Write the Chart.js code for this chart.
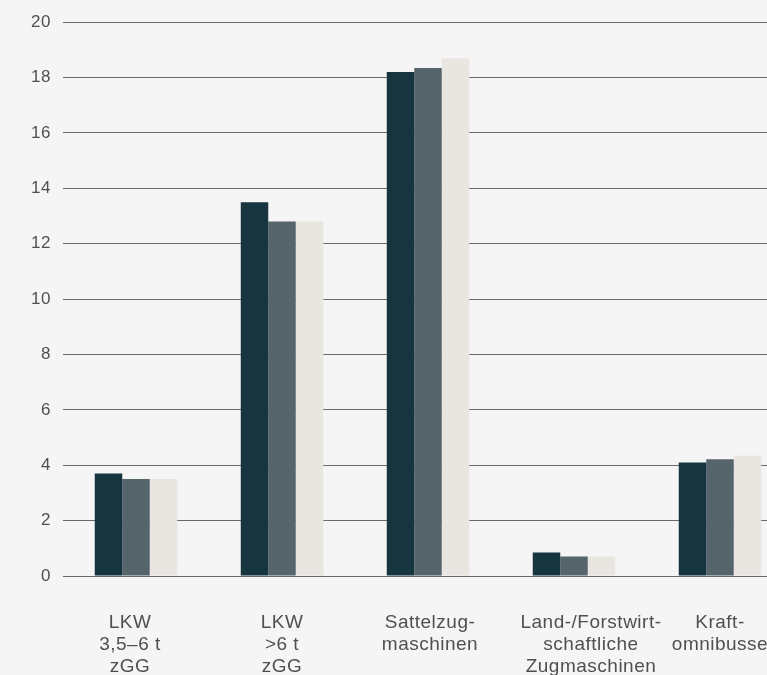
<!DOCTYPE html>
<html>
<head>
<meta charset="utf-8">
<script src="https://cdn.jsdelivr.net/npm/chart.js@4"></script>
<style>
  html, body { margin: 0; padding: 0; background: #f5f5f5; overflow: hidden; }
  #wrap { position: relative; width: 800px; height: 675px; }
</style>
</head>
<body>
<div id="wrap"><canvas id="c"></canvas></div>
<script>
const categories = [
  ["LKW", "3,5–6 t", "zGG"],
  ["LKW", ">6 t", "zGG"],
  ["Sattelzug-", "maschinen"],
  ["Land-/Forstwirt-", "schaftliche", "Zugmaschinen"],
  ["Kraft-", "omnibusse"]
];
const series1 = [3.7, 13.5, 18.2, 0.85, 4.1];
const series2 = [3.5, 12.8, 18.35, 0.7, 4.22];
const series3 = [3.5, 12.8, 18.7, 0.7, 4.34];
const yTicks = [0, 2, 4, 6, 8, 10, 12, 14, 16, 18, 20];

const FONT = "'Liberation Sans', Arial, sans-serif";
const LABEL_NUDGE = [-6, 0, 2, 17, 0];

const spacing = {
  id: 'spacing',
  beforeUpdate(chart) { chart.ctx.letterSpacing = '0.5px'; },
  beforeDraw(chart) { chart.ctx.letterSpacing = '0.5px'; }
};

new Chart(document.getElementById('c'), {
  type: 'bar',
  plugins: [spacing],
  data: {
    labels: categories,
    datasets: [
      { data: series1, backgroundColor: '#17353f' },
      { data: series2, backgroundColor: '#56656c' },
      { data: series3, backgroundColor: '#e9e5e0' }
    ]
  },
  options: {
    responsive: true,
    maintainAspectRatio: false,
    animation: false,
    layout: { padding: { top: 12, right: 7, left: 0, bottom: 0 } },
    datasets: { bar: { categoryPercentage: 0.565, barPercentage: 1.0 } },
    plugins: { legend: { display: false }, tooltip: { enabled: false } },
    scales: {
      x: {
        grid: { display: false, drawTicks: false },
        border: { display: false },
        ticks: {
          color: '#505050',
          font: { family: FONT, size: 19, lineHeight: 1.16 },
          padding: 36,
          maxRotation: 0,
          autoSkip: false
        },
        afterFit: (s) => {
          s.height = 99;
          s.paddingLeft = 0;
          s.paddingRight = 0;
          if (!s._nudged && typeof s._computeLabelItems === 'function') {
            const orig = s._computeLabelItems.bind(s);
            s._computeLabelItems = (ca) => {
              const items = orig(ca);
              items.forEach((it, i) => {
                if (it.options && it.options.translation && LABEL_NUDGE[i]) {
                  it.options.translation[0] += LABEL_NUDGE[i];
                }
              });
              return items;
            };
            s._nudged = true;
          }
        }
      },
      y: {
        min: 0, max: 20,
        afterBuildTicks: (s) => { s.ticks = yTicks.map(v => ({ value: v })); },
        grid: { color: '#6a6a6a', lineWidth: 1, drawTicks: false },
        border: { display: false },
        ticks: {
          color: '#505050',
          font: { family: FONT, size: 17 },
          padding: 12
        },
        afterFit: (s) => { s.width = 63; }
      }
    }
  }
});
</script>
</body>
</html>
